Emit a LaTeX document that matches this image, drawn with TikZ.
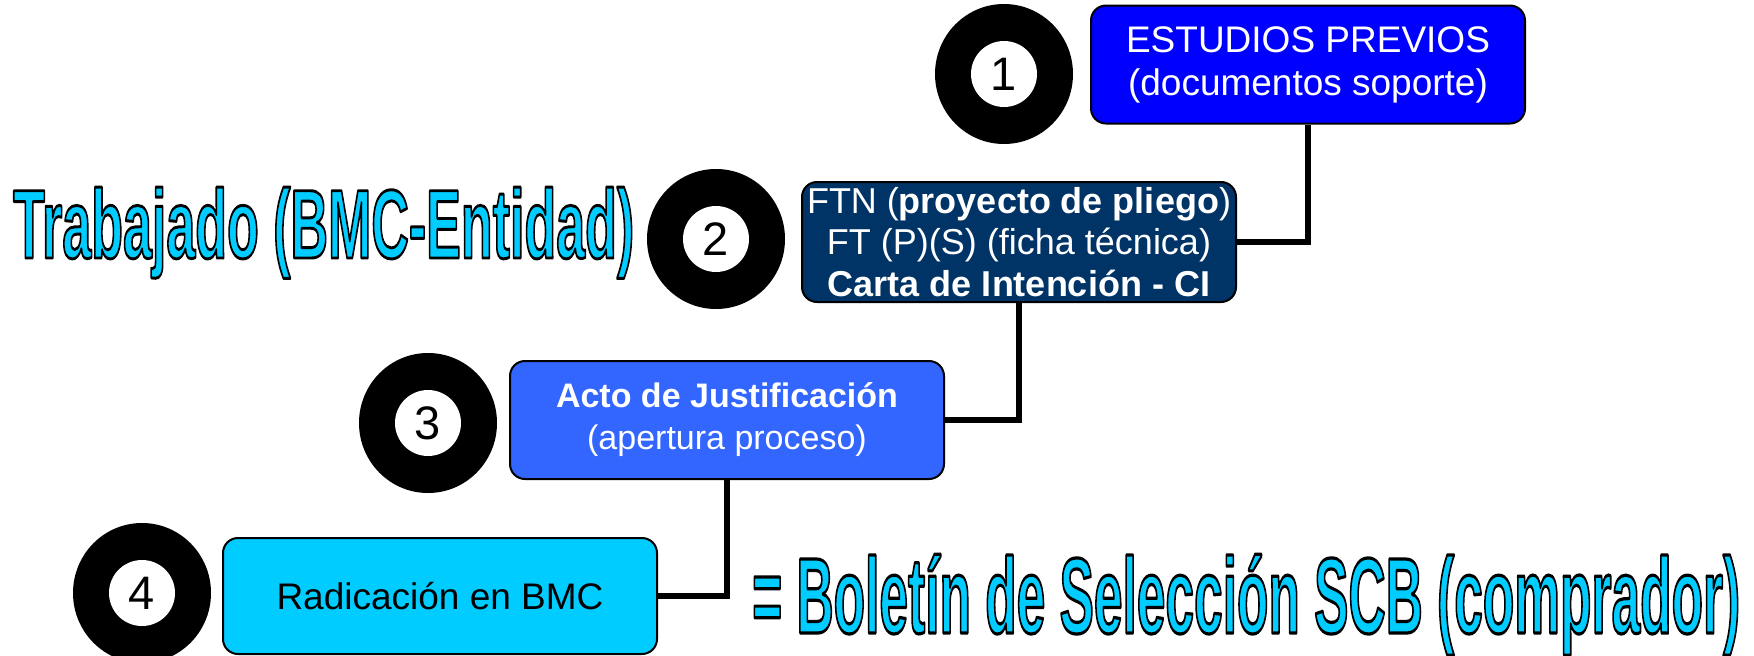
\documentclass[tikz,border=0pt]{standalone}
\usepackage{fontspec}
\setmainfont{Liberation Sans}
\usepackage{graphicx}
\usetikzlibrary{shapes.geometric}
\definecolor{boxblue}{HTML}{0000FF}
\definecolor{boxnavy}{HTML}{003366}
\definecolor{boxmid}{HTML}{3366FF}
\definecolor{boxcyan}{HTML}{00CCFF}
\newcommand{\bigoutline}[3]{\resizebox{#1}{#2}{\fontsize{100}{100}\selectfont\bfseries\raisebox{0pt}[0.716em][0pt]{\color{boxcyan}\special{pdf:literal direct 2 Tr 3 w 1 j 0 0 0 RG}#3\special{pdf:literal direct 0 Tr}}}}
\begin{document}
\begin{tikzpicture}[x=1pt,y=-1pt,
  box/.style={draw=black, line width=2pt, rounded corners=15pt, minimum width=434pt, inner sep=0pt, align=center, text=white},
  bullet/.style={ellipse, fill=black, minimum width=138pt, minimum height=140pt, inner sep=0pt},
  numdisk/.style={ellipse, fill=white, minimum width=66pt, minimum height=66pt, inner sep=0pt, text=black, font=\fontsize{47}{47}\selectfont},
  conn/.style={draw=black, line width=5.5pt}]
\useasboundingbox (0,0) rectangle (1754,656);
% boxes
\node[box, fill=boxblue, minimum height=118pt, font=\fontsize{37}{43}\selectfont] (b1) at (1308,64.5) {ESTUDIOS PREVIOS\\(documentos soporte)};
\node[box, fill=boxnavy, minimum height=120pt, font=\fontsize{36}{41.5}\selectfont] (b2) at (1019,242) {FTN (\textbf{proyecto de pliego})\\FT (P)(S) (ficha técnica)\\\textbf{Carta de Intención - CI}};
\node[box, fill=boxmid, minimum height=118pt, font=\fontsize{34}{42}\selectfont] (b3) at (727,420) {\textbf{Acto de Justificación}\\(apertura proceso)};
\node[box, fill=boxcyan, minimum height=116pt, text=black, font=\fontsize{37}{43}\selectfont] (b4) at (440,596) {Radicación en BMC};
% bullets
\node[bullet] (c1) at (1004,74) {};
\node[numdisk] (n1) at (c1) {1};
\node[bullet] (c2) at (716,239) {};
\node[numdisk] (n2) at (c2) {2};
\node[bullet] (c3) at (428,423) {};
\node[numdisk] (n3) at (c3) {3};
\node[bullet] (c4) at (142,593) {};
\node[numdisk] (n4) at (c4) {4};
% connectors
\draw[conn] (b1.south) |- (b2.east);
\draw[conn] (b2.south) |- (b3.east);
\draw[conn] (b3.south) |- (b4.east);
% big labels
\node[anchor=base west, inner sep=0pt] (trab) at (13,258) {\bigoutline{621pt}{70pt}{Trabajado (BMC-Entidad)}};
\node[anchor=base west, inner sep=0pt] (bol) at (752,633) {\bigoutline{988pt}{77pt}{= Boletín de Selección SCB (comprador)}};
\end{tikzpicture}
\end{document}
